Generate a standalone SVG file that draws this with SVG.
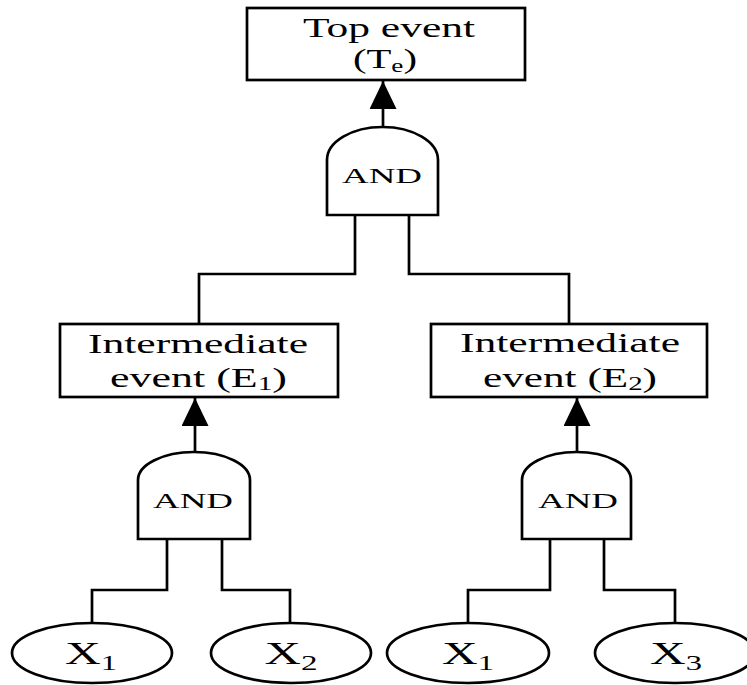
<svg xmlns="http://www.w3.org/2000/svg" width="747" height="685" viewBox="0 0 747 685">
  <style>
    .shape { fill: #fff; stroke: #000; stroke-width: 2.7; }
    .wire { fill: none; stroke: #000; stroke-width: 2.7; }
    .lbl { font-family: "Liberation Serif", "Times New Roman", serif; fill: #000; text-anchor: middle; }
    .box { font-size: 27px; }
    .gate { font-size: 22px; }
    .basic { font-size: 32px; }
  </style>
  <defs>
    <marker id="arrow" viewBox="0 0 28 27" refX="28" refY="13.5" markerWidth="28" markerHeight="27" markerUnits="userSpaceOnUse" orient="auto">
      <path d="M0,0 L28,13.5 L0,27 Z" fill="#000"/>
    </marker>
  </defs>
  <rect width="747" height="685" fill="#fff"/>

  <!-- connectors -->
  <g id="connectors">
    <path class="wire" d="M383,127 V81" marker-end="url(#arrow)"/>
    <path class="wire" d="M355,215 V274 H199 V324"/>
    <path class="wire" d="M409,215 V274 H569 V324"/>
    <path class="wire" d="M195,452 V398" marker-end="url(#arrow)"/>
    <path class="wire" d="M577,452 V398" marker-end="url(#arrow)"/>
    <path class="wire" d="M167,539 V590 H92 V623"/>
    <path class="wire" d="M222,539 V590 H290 V623"/>
    <path class="wire" d="M550,539 V590 H468 V623"/>
    <path class="wire" d="M604,539 V590 H675 V623"/>
  </g>

  <!-- top event -->
  <g id="top-event">
    <rect class="shape" x="247" y="8" width="278" height="72"/>
    <text class="lbl box" x="389" y="37" textLength="172" lengthAdjust="spacingAndGlyphs">Top event</text>
    <text class="lbl box" x="385" y="68" textLength="64" lengthAdjust="spacingAndGlyphs">(T<tspan font-size="18" dy="4">e</tspan><tspan dy="-4">)</tspan></text>
  </g>

  <!-- AND gate under the top event -->
  <g id="gate-top">
    <path class="shape" d="M327,215 V160 A55.5,33 0 0 1 438,160 V215 Z"/>
    <text class="lbl gate" x="382" y="183" textLength="80" lengthAdjust="spacingAndGlyphs">AND</text>
  </g>

  <!-- intermediate event E1 -->
  <g id="event-e1">
    <rect class="shape" x="60" y="324" width="278" height="73"/>
    <text class="lbl box" x="198" y="353" textLength="220" lengthAdjust="spacingAndGlyphs">Intermediate</text>
    <text class="lbl box" x="198.5" y="387" textLength="177" lengthAdjust="spacingAndGlyphs">event (E<tspan font-size="18" dy="3">1</tspan><tspan dy="-3">)</tspan></text>
  </g>

  <!-- intermediate event E2 -->
  <g id="event-e2">
    <rect class="shape" x="431" y="324" width="276" height="73"/>
    <text class="lbl box" x="570" y="352" textLength="220" lengthAdjust="spacingAndGlyphs">Intermediate</text>
    <text class="lbl box" x="570" y="387" textLength="174" lengthAdjust="spacingAndGlyphs">event (E<tspan font-size="18" dy="3">2</tspan><tspan dy="-3">)</tspan></text>
  </g>

  <!-- AND gate under E1 -->
  <g id="gate-e1">
    <path class="shape" d="M138,539 V480 A56,28 0 0 1 250,480 V539 Z"/>
    <text class="lbl gate" x="193" y="508" textLength="80" lengthAdjust="spacingAndGlyphs">AND</text>
  </g>

  <!-- AND gate under E2 -->
  <g id="gate-e2">
    <path class="shape" d="M522,539 V480 A54.5,28 0 0 1 631,480 V539 Z"/>
    <text class="lbl gate" x="578" y="508" textLength="80" lengthAdjust="spacingAndGlyphs">AND</text>
  </g>

  <!-- basic events -->
  <g id="basic-x1-a">
    <ellipse class="shape" cx="92" cy="653" rx="80" ry="30"/>
    <text class="lbl basic" x="91" y="664" textLength="52" lengthAdjust="spacingAndGlyphs">X<tspan font-size="21" dy="6">1</tspan></text>
  </g>
  <g id="basic-x2">
    <ellipse class="shape" cx="291" cy="653" rx="80" ry="30"/>
    <text class="lbl basic" x="291" y="664" textLength="53" lengthAdjust="spacingAndGlyphs">X<tspan font-size="21" dy="6">2</tspan></text>
  </g>
  <g id="basic-x1-b">
    <ellipse class="shape" cx="468" cy="653" rx="81" ry="30"/>
    <text class="lbl basic" x="468" y="664" textLength="52" lengthAdjust="spacingAndGlyphs">X<tspan font-size="21" dy="6">1</tspan></text>
  </g>
  <g id="basic-x3">
    <ellipse class="shape" cx="675" cy="653" rx="80" ry="30"/>
    <text class="lbl basic" x="676" y="664" textLength="52" lengthAdjust="spacingAndGlyphs">X<tspan font-size="21" dy="6">3</tspan></text>
  </g>
</svg>
